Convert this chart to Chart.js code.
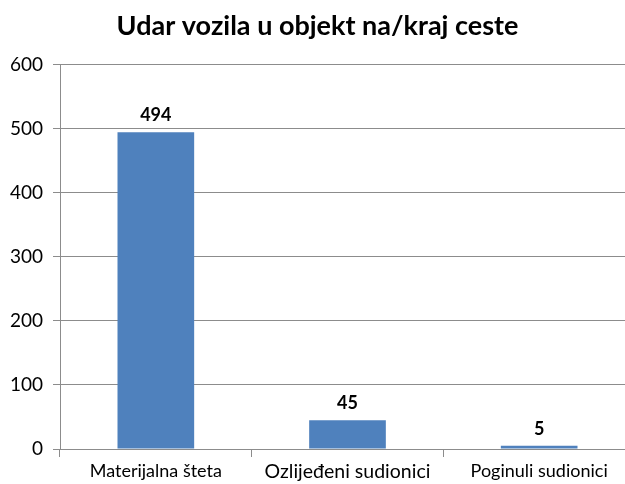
<!DOCTYPE html>
<html>
<head>
<meta charset="utf-8">
<script src="https://cdn.jsdelivr.net/npm/chart.js@4/dist/chart.umd.min.js"></script>
<style>
  html, body { margin: 0; padding: 0; background: #fff; overflow: hidden; }
  #wrap { width: 635px; height: 484px; }
</style>
</head>
<body>
<div id="wrap"><canvas id="myChart" width="635" height="484"></canvas></div>
<script>
let labels = ["Materijalna šteta", "Ozlijeđeni sudionici", "Poginuli sudionici"];
let values = [494, 45, 5];
let yTicks = [0, 100, 200, 300, 400, 500, 600];
let labelSizes = [18, 19.5, 18];

// value labels above each bar
let valueLabels = {
  id: "valueLabels",
  afterDatasetsDraw(chart) {
    let ctx = chart.ctx;
    let meta = chart.getDatasetMeta(0);
    ctx.save();
    ctx.font = "bold 18px Lato";
    ctx.fillStyle = "#000";
    ctx.textAlign = "center";
    ctx.textBaseline = "bottom";
    meta.data.forEach(function (bar, i) {
      ctx.fillText(values[i], bar.x, bar.y - 8);
    });
    ctx.restore();
  },
};

let myChart = document.getElementById("myChart").getContext("2d");

let chart = new Chart(myChart, {
  type: "bar",
  data: {
    labels: labels,
    datasets: [
      {
        data: values,
        backgroundColor: "#4f81bd",
        barPercentage: 0.4,
        categoryPercentage: 1,
      },
    ],
  },
  options: {
    responsive: false,
    animation: false,
    layout: { padding: { left: 0, right: 0, top: 0, bottom: 0 } },
    plugins: {
      title: {
        display: true,
        text: "Udar vozila u objekt na/kraj ceste",
        color: "#000",
        font: { family: "Lato", size: 27, weight: "bold" },
        padding: { top: 10, bottom: 22 },
      },
      legend: { display: false },
      tooltip: { enabled: false },
    },
    scales: {
      x: {
        grid: {
          offset: true,
          drawOnChartArea: false,
          color: "#8c8c8c",
          tickLength: 8,
        },
        border: { color: "#8c8c8c" },
        ticks: {
          color: "#000",
          padding: 3,
          maxRotation: 0,
          font: function (c) {
            return { family: "Lato", size: labelSizes[c.index] || 18 };
          },
        },
        afterFit: function (scale) {
          scale.height = 35;
        },
      },
      y: {
        min: 0,
        max: 600,
        afterBuildTicks: function (scale) {
          scale.ticks = yTicks.map(function (v) { return { value: v }; });
        },
        grid: { color: "#8c8c8c", tickLength: 7 },
        border: { color: "#8c8c8c" },
        ticks: {
          color: "#000",
          padding: 10,
          font: { family: "Lato", size: 19 },
        },
        afterFit: function (scale) {
          scale.width = 60;
        },
      },
    },
  },
  plugins: [valueLabels],
});
</script>
</body>
</html>
